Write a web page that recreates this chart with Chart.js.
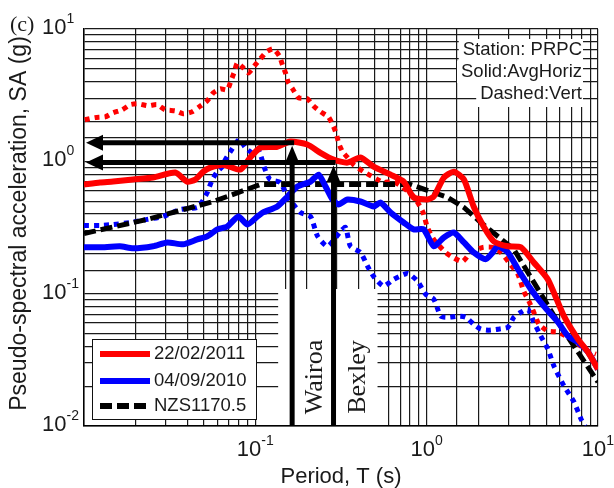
<!DOCTYPE html>
<html>
<head>
<meta charset="utf-8">
<title>Pseudo-spectral acceleration - PRPC</title>
<script src="https://cdn.jsdelivr.net/npm/chart.js@4.4.1/dist/chart.umd.min.js"></script>
<style>
  html, body { margin: 0; padding: 0; background: #fff; }
  #wrap { width: 614px; height: 488px; }
</style>
</head>
<body>
<div id="wrap"><canvas id="saChart" width="614" height="488"></canvas></div>
<script>
// Spectra: period T (s) and SA (g)
// 22/02/2011, average horizontal
const t2011Horiz = [0.01, 0.0124, 0.0148, 0.0193, 0.0253, 0.0341, 0.040, 0.0446, 0.0497, 0.0546, 0.065, 0.0817, 0.0935, 0.107, 0.1345, 0.160, 0.201, 0.240, 0.286, 0.345, 0.411, 0.490, 0.616, 0.734, 0.840, 1.01, 1.10, 1.26, 1.44, 1.65, 1.88, 2.15, 2.47, 2.98, 3.55, 4.22, 5.10, 6.33, 7.64, 8.74, 10];
const sa2011Horiz = [0.668, 0.691, 0.703, 0.728, 0.754, 0.822, 0.703, 0.728, 0.836, 0.896, 0.944, 0.866, 1.07, 1.27, 1.29, 1.41, 1.34, 1.16, 1.03, 0.978, 1.07, 0.912, 0.794, 0.703, 0.533, 0.515, 0.542, 0.754, 0.836, 0.728, 0.456, 0.322, 0.248, 0.228, 0.224, 0.172, 0.128, 0.0676, 0.0453, 0.0362, 0.0269];

// 22/02/2011, vertical
const t2011Vert = [0.0101, 0.0116, 0.0133, 0.0148, 0.0167, 0.0186, 0.0207, 0.0237, 0.0267, 0.0298, 0.0341, 0.0379, 0.0428, 0.0471, 0.0524, 0.0568, 0.0624, 0.0686, 0.0724, 0.0754, 0.0785, 0.0840, 0.0910, 0.0987, 0.107, 0.116, 0.127, 0.138, 0.144, 0.150, 0.156, 0.165, 0.179, 0.201, 0.218, 0.240, 0.267, 0.286, 0.298, 0.306, 0.323, 0.345, 0.374, 0.428, 0.517, 0.560, 0.641, 0.754, 0.840, 0.948, 1.01, 1.10, 1.29, 1.42, 1.62, 1.81, 2.13, 2.43, 2.71, 3.02, 3.41, 3.69, 3.95, 4.22, 4.52, 5.10, 5.84, 6.68, 7.64, 8.74, 9.73];
const sa2011Vert = [2.06, 2.14, 2.17, 2.33, 2.45, 2.68, 2.72, 2.63, 2.68, 2.45, 2.41, 2.29, 2.37, 2.58, 2.87, 3.29, 3.53, 3.47, 4.13, 4.74, 5.54, 5.17, 4.66, 5.26, 5.94, 6.71, 7.07, 6.26, 5.35, 4.66, 3.92, 3.53, 3.02, 2.97, 2.63, 2.37, 2.17, 1.83, 1.59, 1.38, 1.18, 1.07, 0.944, 0.836, 0.728, 0.691, 0.703, 0.612, 0.542, 0.418, 0.317, 0.257, 0.205, 0.188, 0.175, 0.205, 0.224, 0.224, 0.205, 0.172, 0.140, 0.104, 0.0877, 0.0724, 0.0588, 0.0521, 0.0512, 0.0469, 0.0416, 0.0368, 0.0349];

// 04/09/2010, average horizontal
const t2010Horiz = [0.01, 0.0124, 0.0162, 0.0193, 0.0253, 0.0306, 0.0379, 0.0458, 0.0524, 0.0600, 0.0686, 0.0796, 0.0898, 0.103, 0.111, 0.1345, 0.154, 0.176, 0.210, 0.234, 0.257, 0.282, 0.306, 0.345, 0.411, 0.490, 0.538, 0.616, 0.734, 0.840, 0.961, 1.10, 1.26, 1.44, 1.65, 1.88, 2.21, 2.43, 2.60, 2.98, 3.41, 4.06, 4.83, 5.84, 6.68, 7.64, 8.74, 10];
const sa2010Horiz = [0.224, 0.224, 0.228, 0.220, 0.228, 0.244, 0.236, 0.257, 0.271, 0.306, 0.322, 0.383, 0.333, 0.383, 0.411, 0.456, 0.542, 0.645, 0.703, 0.794, 0.645, 0.515, 0.472, 0.515, 0.497, 0.456, 0.488, 0.411, 0.345, 0.306, 0.306, 0.228, 0.266, 0.290, 0.244, 0.205, 0.182, 0.205, 0.228, 0.205, 0.153, 0.108, 0.0804, 0.0609, 0.0478, 0.0430, 0.0362, 0.0269];

// 04/09/2010, vertical
const t2010Vert = [0.01, 0.0124, 0.0148, 0.0186, 0.0234, 0.0290, 0.0364, 0.0458, 0.0490, 0.0524, 0.0561, 0.0600, 0.0641, 0.0668, 0.0714, 0.0806, 0.0874, 0.0961, 0.104, 0.114, 0.122, 0.140, 0.154, 0.183, 0.210, 0.231, 0.264, 0.314, 0.336, 0.359, 0.411, 0.452, 0.490, 0.560, 0.641, 0.774, 0.886, 0.987, 1.10, 1.21, 1.35, 1.52, 1.69, 1.88, 2.07, 2.31, 2.60, 2.98, 3.23, 3.55, 3.90, 4.22, 4.64, 5.10, 5.53, 6.33, 7.24, 7.96, 8.40];
const sa2010Vert = [0.328, 0.328, 0.333, 0.345, 0.364, 0.383, 0.433, 0.448, 0.497, 0.581, 0.728, 0.836, 0.912, 1.03, 1.18, 1.46, 1.27, 1.16, 1.23, 0.866, 0.728, 0.691, 0.542, 0.411, 0.383, 0.271, 0.228, 0.295, 0.317, 0.228, 0.205, 0.161, 0.135, 0.114, 0.128, 0.142, 0.124, 0.099, 0.0908, 0.0676, 0.0664, 0.0676, 0.0664, 0.0588, 0.0539, 0.0530, 0.0539, 0.0558, 0.0664, 0.0724, 0.0763, 0.0609, 0.0478, 0.0381, 0.0284, 0.0201, 0.0152, 0.0113, 0.0100];

// NZS1170.5 design spectrum
const tNzs = [0.01, 0.0234, 0.0568, 0.107, 0.806, 1.33, 1.65, 2.07, 3.23, 5.84, 10];
const saNzs = [0.285, 0.364, 0.497, 0.668, 0.668, 0.533, 0.448, 0.345, 0.216, 0.0609, 0.0215];

// Site markers (arrows)
const siteNames = ['Wairoa', 'Bexley'];
const sitePeriods = [0.164, 0.286];
const siteSA = [1.38, 0.98];

const annotationLines = ['Station: PRPC', 'Solid:AvgHoriz', 'Dashed:Vert'];
const xTickValues = [0.1, 1, 10];
const yTickValues = [10, 1, 0.1, 0.01];

const SANS = "'Liberation Sans', Arial, sans-serif";
const SERIF = "'Liberation Serif', 'Times New Roman', serif";
const TEXT = '#1a1a1a';

function toPoints(ts, sas) {
  return ts.map((t, i) => ({ x: t, y: sas[i] }));
}

// "10" with a raised exponent
function drawPower(ctx, value, x, y, centered) {
  const exp = String(Math.round(Math.log10(value)));
  ctx.font = '22px ' + SANS;
  const wBase = ctx.measureText('10').width;
  ctx.font = '14px ' + SANS;
  const wExp = ctx.measureText(exp).width;
  const left = centered ? x - (wBase + wExp) / 2 : x;
  ctx.textAlign = 'left';
  ctx.textBaseline = 'middle';
  ctx.font = '22px ' + SANS;
  ctx.fillText('10', left, y);
  ctx.font = '14px ' + SANS;
  ctx.fillText(exp, left + wBase, y - 9);
}

function arrowHead(ctx, tipX, tipY, dir) {
  ctx.beginPath();
  ctx.moveTo(tipX, tipY);
  if (dir === 'left') {
    ctx.lineTo(tipX + 17, tipY - 8);
    ctx.lineTo(tipX + 17, tipY + 8);
  } else {
    ctx.lineTo(tipX - 7, tipY + 17);
    ctx.lineTo(tipX + 7, tipY + 17);
  }
  ctx.closePath();
  ctx.fill();
}

const overlay = {
  id: 'overlay',
  // white patches over the grid behind texts
  beforeDatasetsDraw(chart) {
    const { ctx, chartArea: a, scales: { x } } = chart;
    ctx.save();
    ctx.fillStyle = '#fff';
    // site label box
    const bx0 = x.getPixelForValue(sitePeriods[0]) - 14;
    const bx1 = x.getPixelForValue(sitePeriods[1]) + 44;
    ctx.fillRect(bx0, a.bottom - 137, bx1 - bx0, 136);
    // station text boxes
    ctx.font = '18.5px ' + SANS;
    annotationLines.forEach((line, i) => {
      const w = ctx.measureText(line).width;
      const cy = a.top + 21 + i * 22;
      ctx.fillRect(a.right - 16 - w - 4, cy - 11, w + 5, i === annotationLines.length - 1 ? 24 : 22);
    });
    // legend box
    ctx.fillRect(a.left + 8, a.bottom - 87, 164, 80);
    ctx.strokeStyle = '#111';
    ctx.lineWidth = 1;
    ctx.strokeRect(a.left + 8.5, a.bottom - 86.5, 164, 80);
    ctx.restore();
  },
  afterDatasetsDraw(chart) {
    const { ctx, chartArea: a, scales: { x, y } } = chart;
    ctx.save();
    ctx.fillStyle = '#000';
    ctx.strokeStyle = '#000';
    ctx.lineWidth = 5;
    sitePeriods.forEach((t, i) => {
      const px = x.getPixelForValue(t);
      const py = y.getPixelForValue(siteSA[i]);
      ctx.beginPath();
      ctx.moveTo(px + 2, py);
      ctx.lineTo(a.left + 14, py);
      ctx.stroke();
      arrowHead(ctx, a.left + 2, py, 'left');
      ctx.beginPath();
      ctx.moveTo(px, a.bottom);
      ctx.lineTo(px, py + 15);
      ctx.stroke();
      arrowHead(ctx, px, py + 3, 'up');
      // rotated site name
      ctx.save();
      ctx.translate(px + 30 + i, a.bottom - 49);
      ctx.rotate(-Math.PI / 2);
      ctx.font = '26px ' + SERIF;
      ctx.fillStyle = TEXT;
      ctx.textAlign = 'center';
      ctx.textBaseline = 'alphabetic';
      ctx.fillText(siteNames[i], 0, 0);
      ctx.restore();
    });
    ctx.restore();
  },
  afterDraw(chart) {
    const { ctx, chartArea: a, scales: { x, y } } = chart;
    ctx.save();
    ctx.fillStyle = TEXT;

    yTickValues.forEach(v => drawPower(ctx, v, 42, y.getPixelForValue(v) - 1, false));
    xTickValues.forEach(v => drawPower(ctx, v, x.getPixelForValue(v), 450, true));

    // axis titles
    ctx.font = '22px ' + SANS;
    ctx.textAlign = 'center';
    ctx.textBaseline = 'middle';
    ctx.fillText('Period, T (s)', (a.left + a.right) / 2, 477);
    ctx.save();
    ctx.translate(19.5, 223.5);
    ctx.rotate(-Math.PI / 2);
    ctx.font = '23px ' + SANS;
    ctx.fillText('Pseudo-spectral acceleration, SA (g)', 0, 0);
    ctx.restore();

    ctx.font = '22px ' + SERIF;
    ctx.textAlign = 'left';
    ctx.fillText('(c)', 10, 25);

    // station notes
    ctx.font = '18.5px ' + SANS;
    ctx.textAlign = 'right';
    annotationLines.forEach((line, i) => ctx.fillText(line, a.right - 16, a.top + 21 + i * 22));

    // legend entries
    const lx = a.left + 8, ly = a.bottom - 87;
    chart.data.datasets.slice(0, 3).forEach((ds, i) => {
      const ry = ly + [15, 42, 67][i];
      ctx.save();
      ctx.strokeStyle = ds.borderColor;
      ctx.lineWidth = 6;
      ctx.setLineDash(ds.borderDash || []);
      ctx.beginPath();
      ctx.moveTo(lx + 8, ry);
      ctx.lineTo(lx + 58, ry);
      ctx.stroke();
      ctx.restore();
      ctx.font = '18.5px ' + SANS;
      ctx.textAlign = 'left';
      ctx.textBaseline = 'middle';
      ctx.fillText(ds.label, lx + 62, ry);
    });
    ctx.restore();
  }
};

const gridOpts = { color: '#1a1a1a', lineWidth: 1.2, drawTicks: false };

new Chart(document.getElementById('saChart'), {
  type: 'line',
  data: {
    datasets: [
      { label: '22/02/2011', data: toPoints(t2011Horiz, sa2011Horiz), borderColor: '#ff0000', borderWidth: 6, tension: 0.2 },
      { label: '04/09/2010', data: toPoints(t2010Horiz, sa2010Horiz), borderColor: '#0000ff', borderWidth: 6, tension: 0.2 },
      { label: 'NZS1170.5', data: toPoints(tNzs, saNzs), borderColor: '#000000', borderWidth: 5, borderDash: [12, 5], tension: 0 },
      { label: '22/02/2011 vert', data: toPoints(t2011Vert, sa2011Vert), borderColor: '#ff0000', borderWidth: 5, borderDash: [5, 5], tension: 0.2 },
      { label: '04/09/2010 vert', data: toPoints(t2010Vert, sa2010Vert), borderColor: '#0000ff', borderWidth: 5, borderDash: [5, 5], tension: 0.2 }
    ]
  },
  options: {
    responsive: false,
    animation: false,
    devicePixelRatio: 1,
    layout: { padding: { left: 84, top: 29, right: 16, bottom: 62 } },
    elements: { point: { radius: 0 }, line: { borderCapStyle: 'butt' } },
    plugins: { legend: { display: false }, tooltip: { enabled: false } },
    scales: {
      x: {
        type: 'logarithmic', min: 0.01, max: 10,
        ticks: { display: false, autoSkip: false },
        grid: gridOpts,
        border: { color: '#000', width: 1.5 }
      },
      y: {
        type: 'logarithmic', min: 0.01, max: 10,
        ticks: { display: false, autoSkip: false },
        grid: gridOpts,
        border: { color: '#000', width: 1.5 }
      }
    }
  },
  plugins: [overlay]
});
</script>
</body>
</html>
